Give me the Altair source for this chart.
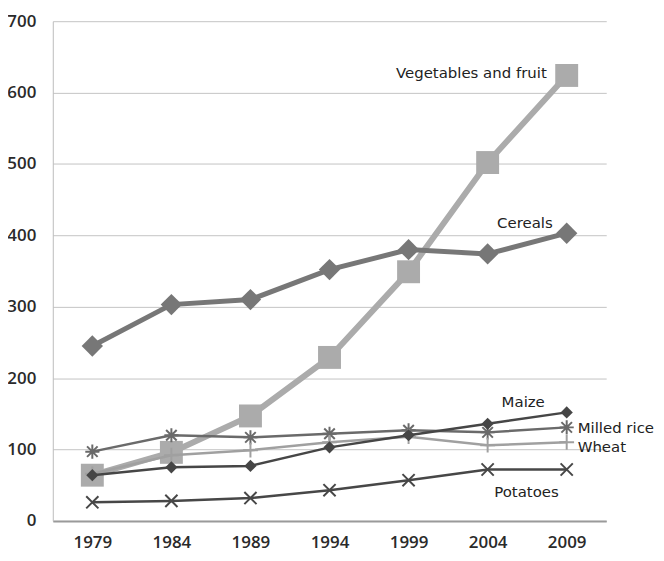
import altair as alt
import pandas as pd

years = ["1979", "1984", "1989", "1994", "1999", "2004", "2009"]
series_names = ["Vegetables and fruit", "Cereals", "Milled rice", "Wheat", "Maize", "Potatoes"]
veg = [64, 96, 147, 229, 349, 502, 624]
cereals = [245, 303, 310, 352, 380, 374, 403]
rice = [97, 120, 117, 122, 127, 124, 131]
wheat = [66, 92, 99, 110, 118, 106, 110]
maize = [64, 75, 77, 103, 120, 136, 152]
potatoes = [26, 28, 32, 43, 57, 72, 72]
y_ticks = [0, 100, 200, 300, 400, 500, 600, 700]

values = {
    "Vegetables and fruit": veg,
    "Cereals": cereals,
    "Milled rice": rice,
    "Wheat": wheat,
    "Maize": maize,
    "Potatoes": potatoes,
}

STAR = "M-1,0L1,0M0,-1L0,1M-0.75,-0.75L0.75,0.75M-0.75,0.75L0.75,-0.75"
PLUS = "M-1,0L1,0M0,-1L0,1"
XSHAPE = "M-1,-1L1,1M-1,1L1,-1"

style = {
    "Vegetables and fruit": dict(color="#ababab", lw=6, shape="square", size=530, filled=True,
                                 align="right", dx=-20, dy=-2),
    "Cereals": dict(color="#777777", lw=5, shape="diamond", size=460, filled=True,
                    align="right", dx=-14, dy=-10),
    "Milled rice": dict(color="#6a6a6a", lw=2.5, shape=STAR, size=200, filled=False,
                        align="left", dx=11, dy=1),
    "Wheat": dict(color="#a0a0a0", lw=2.5, shape=PLUS, size=220, filled=False,
                  align="left", dx=11, dy=5),
    "Maize": dict(color="#464646", lw=2.5, shape="diamond", size=150, filled=True,
                  align="right", dx=-22, dy=-10),
    "Potatoes": dict(color="#474747", lw=2.5, shape=XSHAPE, size=150, filled=False,
                     align="right", dx=-8, dy=23),
}

rows = []
for s in series_names:
    for y, v in zip(years, values[s]):
        rows.append({"series": s, "year": y, "value": v})
df = pd.DataFrame(rows)

xenc = alt.X("year:O", scale=alt.Scale(domain=years, type="point", padding=0.5),
             axis=alt.Axis(title=None, labelAngle=0, ticks=False, domainColor="#9a9a9a",
                           domainWidth=2, labelPadding=14, labelFontSize=17,
                           labelFontWeight=600, labelColor="#2a2a2a",
                           labelFont="Open Sans", grid=False))
yenc = alt.Y("value:Q", scale=alt.Scale(domain=[0, 700], nice=False),
             axis=alt.Axis(title=None, values=y_ticks, ticks=False, domainColor="#bbbbbb",
                           gridColor="#c4c4c4", gridWidth=1, labelPadding=17,
                           labelFontSize=17, labelFontWeight=600, labelColor="#2a2a2a",
                           labelFont="Open Sans"))

layers = []
for s in series_names:
    st = style[s]
    d = df[df.series == s]
    base = alt.Chart(d)
    line = base.mark_line(color=st["color"], strokeWidth=st["lw"]).encode(x=xenc, y=yenc)
    if st["filled"]:
        pt = base.mark_point(shape=st["shape"], size=st["size"], filled=True, opacity=1,
                             color=st["color"], strokeWidth=0).encode(x=xenc, y=yenc)
    else:
        pt = base.mark_point(shape=st["shape"], size=st["size"], filled=False, opacity=1,
                             color=st["color"], strokeWidth=2).encode(x=xenc, y=yenc)
    lab = alt.Chart(d[d.year == years[-1]]).mark_text(
        align=st["align"], baseline="middle", dx=st["dx"], dy=st["dy"], fontSize=15,
        font="DejaVu Sans", color="#222222"
    ).encode(x=xenc, y=yenc, text="series:N")
    layers += [line, pt, lab]

chart = alt.layer(*layers).properties(
    width=556, height=502,
    autosize=alt.AutoSizeParams(type="none"),
    padding={"left": 45, "top": 12, "right": 50, "bottom": 30},
    background="white",
).configure_view(stroke=None)

chart.save("out.html", embed_options={"renderer": "svg", "actions": False})
